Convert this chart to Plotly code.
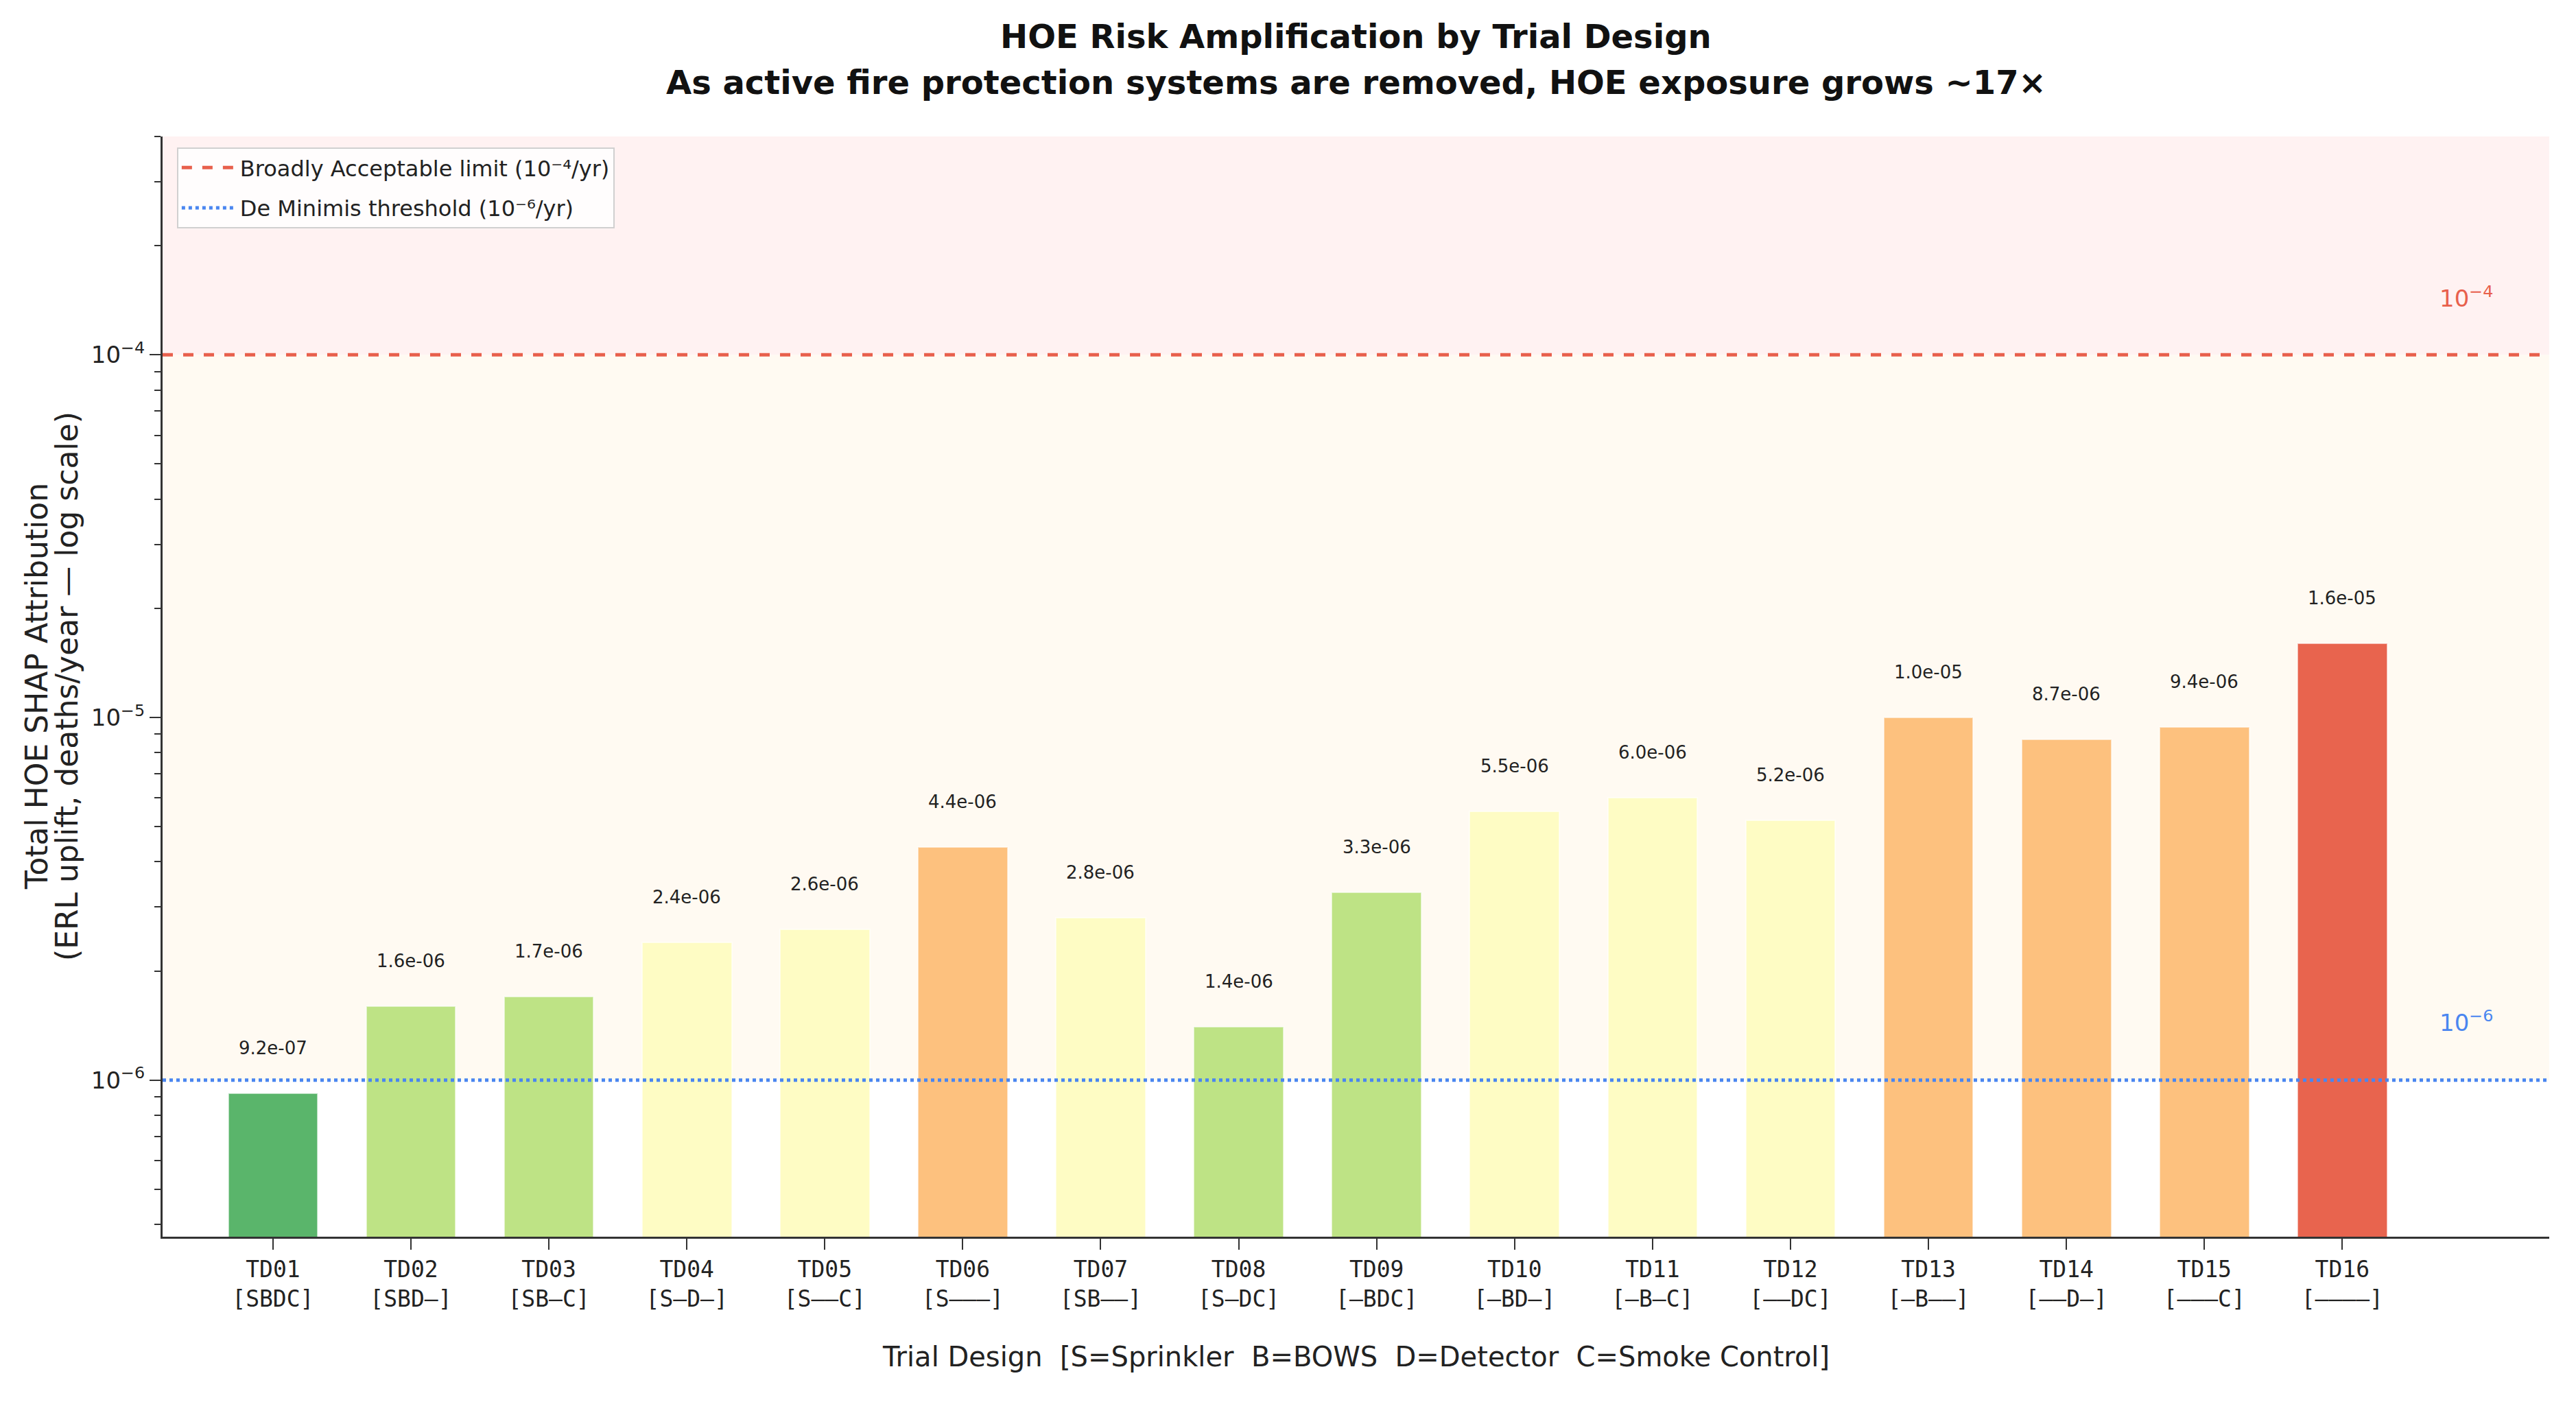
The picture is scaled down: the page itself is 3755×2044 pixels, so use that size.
import math
import plotly.graph_objects as go

# ---------------- data ----------------
trial_ids = ["TD01", "TD02", "TD03", "TD04", "TD05", "TD06", "TD07", "TD08",
             "TD09", "TD10", "TD11", "TD12", "TD13", "TD14", "TD15", "TD16"]
configs = ["SBDC", "SBD—", "SB—C", "S—D—", "S——C", "S———", "SB——", "S—DC",
           "—BDC", "—BD—", "—B—C", "——DC", "—B——", "——D—", "———C", "————"]
hoe_values = [9.2e-07, 1.6e-06, 1.7e-06, 2.4e-06, 2.6e-06, 4.4e-06, 2.8e-06, 1.4e-06,
              3.3e-06, 5.5e-06, 6.0e-06, 5.2e-06, 1.0e-05, 8.7e-06, 9.4e-06, 1.6e-05]
systems_active = [4, 3, 3, 2, 2, 1, 2, 3, 3, 2, 2, 2, 1, 1, 1, 0]
color_by_active = {4: "#5AB56B", 3: "#BEE385", 2: "#FEFCC4", 1: "#FDC17E", 0: "#E8644E"}

broadly_acceptable = 1e-4
de_minimis = 1e-6
y_limits = [3.7e-7, 4e-4]

title_line1 = "HOE Risk Amplification by Trial Design"
title_line2 = "As active fire protection systems are removed, HOE exposure grows ~17×"
x_title = "Trial Design  [S=Sprinkler  B=BOWS  D=Detector  C=Smoke Control]"
y_title_lines = ["Total HOE SHAP Attribution", "(ERL uplift, deaths/year — log scale)"]
legend_labels = ["Broadly Acceptable limit (10⁻⁴/yr)", "De Minimis threshold (10⁻⁶/yr)"]

# ---------------- figure ----------------
W, H = 3755, 2044
ML, MR, MT, MB = 237, 39, 199, 241
FONT = "DejaVu Sans"
RED = "#E8604C"
BLUE = "#4A86F0"

plot_h = H - MT - MB
plot_w = W - ML - MR


def py(pix_y):
    """paper y coordinate for a pixel row of the page"""
    return (H - MB - pix_y) / plot_h


def px(pix_x):
    return (pix_x - ML) / plot_w


x_pos = list(range(len(trial_ids)))
tick_text = [f"{t}<br>[{c}]" for t, c in zip(trial_ids, configs)]
bar_colors = [color_by_active[n] for n in systems_active]

fig = go.Figure()

fig.add_trace(go.Bar(
    x=x_pos, y=hoe_values, width=0.65,
    marker=dict(color=bar_colors, line=dict(color="rgba(255,255,255,0.55)", width=2)),
    showlegend=False, hoverinfo="y",
))

# legend proxies
fig.add_trace(go.Scatter(x=[None], y=[None], mode="lines", name=legend_labels[0],
                         legendgroup="a", line=dict(color=RED, width=5, dash="dash")))
fig.add_trace(go.Scatter(x=[None], y=[None], mode="lines", name=legend_labels[1],
                         legendgroup="b", line=dict(color=BLUE, width=5, dash="dot")))

shapes = [
    dict(type="rect", xref="paper", yref="y", x0=0, x1=1, y0=broadly_acceptable, y1=y_limits[1],
         fillcolor="#FFF2F2", line=dict(width=0), layer="below"),
    dict(type="rect", xref="paper", yref="y", x0=0, x1=1, y0=de_minimis, y1=broadly_acceptable,
         fillcolor="#FFFAF2", line=dict(width=0), layer="below"),
    dict(type="line", xref="paper", yref="y", x0=0, x1=1, y0=broadly_acceptable, y1=broadly_acceptable,
         line=dict(color=RED, width=5, dash="dash"), layer="above"),
    dict(type="line", xref="paper", yref="y", x0=0, x1=1, y0=de_minimis, y1=de_minimis,
         line=dict(color=BLUE, width=5, dash="dot"), layer="above"),
]

annotations = []
for xi, v in zip(x_pos, hoe_values):
    annotations.append(dict(x=xi, y=math.log10(v), xref="x", yref="y",
                            text=f"{v:.1e}", showarrow=False, yshift=66,
                            font=dict(family=FONT, size=26, color="#222222")))

annotations.append(dict(x=15.9, y=math.log10(broadly_acceptable), xref="x", yref="y",
                        text="10<sup>−4</sup>", showarrow=False, yshift=84,
                        font=dict(family=FONT, size=34, color=RED)))
annotations.append(dict(x=15.9, y=math.log10(de_minimis), xref="x", yref="y",
                        text="10<sup>−6</sup>", showarrow=False, yshift=86,
                        font=dict(family=FONT, size=34, color=BLUE)))

annotations.append(dict(x=0.5, y=py(53), xref="paper", yref="paper",
                        xanchor="center", yanchor="middle",
                        text=f"<b>{title_line1}</b>", showarrow=False,
                        font=dict(family=FONT, size=48, color="#111111")))
annotations.append(dict(x=0.5, y=py(120), xref="paper", yref="paper",
                        xanchor="center", yanchor="middle",
                        text=f"<b>{title_line2}</b>", showarrow=False,
                        font=dict(family=FONT, size=48, color="#111111")))
annotations.append(dict(x=0.5, y=py(1978), xref="paper", yref="paper",
                        xanchor="center", yanchor="middle",
                        text=x_title.replace("  ", "\u00a0\u00a0"), showarrow=False,
                        font=dict(family=FONT, size=40, color="#222222")))
for pix_x, line in zip((53, 97), y_title_lines):
    annotations.append(dict(x=px(pix_x), y=0.5, xref="paper", yref="paper",
                            xanchor="center", yanchor="middle",
                            text=line, showarrow=False, textangle=-90,
                            font=dict(family=FONT, size=44, color="#222222")))

fig.update_layout(
    width=W, height=H,
    margin=dict(l=ML, r=MR, t=MT, b=MB, pad=0),
    paper_bgcolor="white", plot_bgcolor="white",
    shapes=shapes, annotations=annotations,
    bargap=0,
    legend=dict(x=0.006, y=0.99, xanchor="left", yanchor="top",
                bgcolor="rgba(255,255,255,0.8)", bordercolor="#D0D0D0", borderwidth=2,
                font=dict(family=FONT, size=32, color="#222222"),
                itemwidth=80, tracegroupgap=14),
    font=dict(family=FONT, color="#222222"),
)

fig.update_xaxes(
    range=[-0.8, 16.5], tickmode="array", tickvals=x_pos, ticktext=tick_text,
    tickfont=dict(family="DejaVu Sans Mono", size=33, color="#222222"),
    ticks="outside", ticklen=16, tickwidth=2, tickcolor="#333333",
    showline=True, linecolor="#333333", linewidth=3, mirror=False,
    showgrid=False, zeroline=False,
)

fig.update_yaxes(
    type="log", range=[math.log10(y_limits[0]), math.log10(y_limits[1])],
    tickmode="array", tickvals=[1e-6, 1e-5, 1e-4],
    ticktext=["10<sup>−6</sup>", "10<sup>−5</sup>", "10<sup>−4</sup>"],
    tickfont=dict(family=FONT, size=34, color="#222222"),
    ticks="outside", ticklen=16, tickwidth=2, tickcolor="#333333",
    minor=dict(ticks="outside", ticklen=9, tickwidth=2, tickcolor="#333333",
               tickvals=[m * 10.0 ** e for e in (-7, -6, -5, -4) for m in range(2, 10)]),
    showline=True, linecolor="#333333", linewidth=3, mirror=False,
    showgrid=False, zeroline=False,
)

fig.write_html("out.html")
